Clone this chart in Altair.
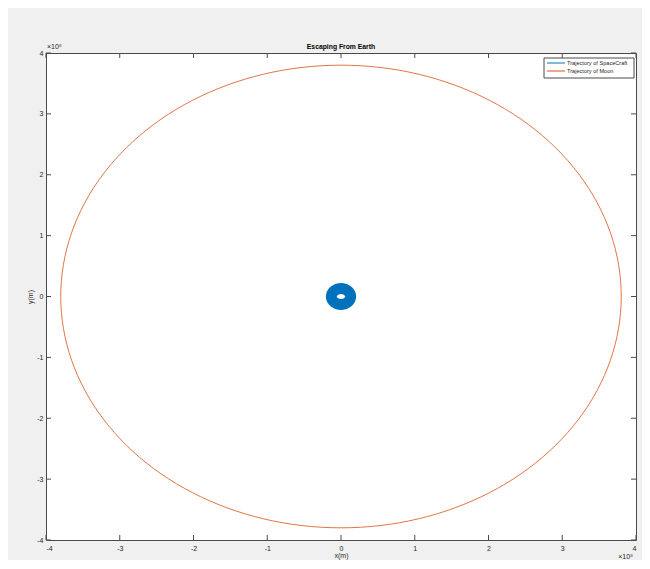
import altair as alt
import numpy as np
import pandas as pd

# ---- data ----
chart_title = "Escaping From Earth"
series_names = ["Trajectory of SpaceCraft", "Trajectory of Moon"]
series_colors = ["#0072BD", "#D95319"]
moon_orbit_radius_m = 3.8e8          # radius of the moon's circular orbit
craft_band_mid_radius_m = 0.13e8     # middle radius of the dense spacecraft spiral band
craft_band_width_px = 11             # drawn thickness of the spacecraft band
tick_values = [-4e8, -3e8, -2e8, -1e8, 0, 1e8, 2e8, 3e8, 4e8]
orbit_angles_deg = list(range(0, 361, 2))

W, H = 590, 487
FONT = "Liberation Sans"
AX = "#262626"
BOX = "#4a4a4a"

rows = []
for name, r in [(series_names[0], craft_band_mid_radius_m), (series_names[1], moon_orbit_radius_m)]:
    for i, a in enumerate(orbit_angles_deg):
        t = np.deg2rad(a)
        rows.append({"series": name, "i": i, "x": r * np.cos(t), "y": r * np.sin(t)})
df = pd.DataFrame(rows)
ticks = pd.DataFrame({"v": tick_values})

xs = alt.Scale(domain=[-4e8, 4e8], nice=False, zero=False)
ys = alt.Scale(domain=[-4e8, 4e8], nice=False, zero=False)
lbl = "''+(datum.value/1e8)"
xaxis = alt.Axis(values=tick_values, labelExpr=lbl, title="x(m)", labelPadding=4, titlePadding=0)
yaxis = alt.Axis(values=tick_values, labelExpr=lbl, title="y(m)", labelPadding=3, titlePadding=3)
color = alt.Color("series:N", scale=alt.Scale(domain=series_names, range=series_colors), legend=None)

craft = alt.Chart(df).transform_filter(alt.datum.series == series_names[0]).mark_line(
    strokeWidth=craft_band_width_px
).encode(
    x=alt.X("x:Q", scale=xs, axis=xaxis),
    y=alt.Y("y:Q", scale=ys, axis=yaxis),
    color=color,
    order="i:Q",
)
moon = alt.Chart(df).transform_filter(alt.datum.series == series_names[1]).mark_line(
    strokeWidth=1, opacity=0.8
).encode(
    x=alt.X("x:Q", scale=xs, axis=xaxis),
    y=alt.Y("y:Q", scale=ys, axis=yaxis),
    color=color,
    order="i:Q",
)

tick_len = 5
tick_top = alt.Chart(ticks).mark_rule(color=BOX, strokeWidth=1).encode(
    x=alt.X("v:Q", scale=xs, axis=xaxis), y=alt.value(0), y2=alt.value(tick_len))
tick_bot = alt.Chart(ticks).mark_rule(color=BOX, strokeWidth=1).encode(
    x=alt.X("v:Q", scale=xs, axis=xaxis), y=alt.value(H - tick_len), y2=alt.value(H))
tick_left = alt.Chart(ticks).mark_rule(color=BOX, strokeWidth=1).encode(
    y=alt.Y("v:Q", scale=ys, axis=yaxis), x=alt.value(0), x2=alt.value(tick_len))
tick_right = alt.Chart(ticks).mark_rule(color=BOX, strokeWidth=1).encode(
    y=alt.Y("v:Q", scale=ys, axis=yaxis), x=alt.value(W - tick_len), x2=alt.value(W))

exp_df = pd.DataFrame({"t": ["×10⁸"]})
exp_top = alt.Chart(exp_df).mark_text(
    font=FONT, fontSize=7, color=AX, align="left", baseline="bottom"
).encode(text="t:N", x=alt.value(1), y=alt.value(-3))
exp_bot = alt.Chart(exp_df).mark_text(
    font=FONT, fontSize=7, color=AX, align="right", baseline="middle"
).encode(text="t:N", x=alt.value(W - 3), y=alt.value(H + 17))

title_df = pd.DataFrame({"t": [chart_title]})
title_mark = alt.Chart(title_df).mark_text(
    font=FONT, fontSize=6.8, fontWeight="bold", color="#000000", align="center", baseline="middle"
).encode(text="t:N", x=alt.value(W / 2), y=alt.value(-6))

# ---- legend box (drawn as marks) ----
LX, LY, LW, LH = 498, 5, 90, 20
leg_df = pd.DataFrame({"series": series_names})
legend_box = alt.Chart(leg_df.head(1)).mark_rect(
    fill="white", stroke=BOX, strokeWidth=1
).encode(x=alt.value(LX), x2=alt.value(LX + LW), y=alt.value(LY), y2=alt.value(LY + LH))
legend_parts = [legend_box]
for k, name in enumerate(series_names):
    row_y = LY + 5 + 8 * k
    one = leg_df[leg_df.series == name]
    legend_parts.append(
        alt.Chart(one).mark_rule(strokeWidth=1, color=series_colors[k]).encode(
            x=alt.value(LX + 3), x2=alt.value(LX + 21), y=alt.value(row_y)))
    legend_parts.append(
        alt.Chart(one).mark_text(font=FONT, fontSize=5.6, color=AX, align="left", baseline="middle").encode(
            text="series:N", x=alt.value(LX + 23), y=alt.value(row_y)))

chart = alt.layer(
    craft, moon, tick_top, tick_bot, tick_left, tick_right, exp_top, exp_bot, title_mark, *legend_parts
).properties(
    width=W, height=H,
    autosize=alt.AutoSizeParams(type="none"),
    padding={"left": 38, "top": 45, "right": 6, "bottom": 20},
    background="#f0f0f0",
).configure_view(
    fill="white", stroke=BOX, strokeWidth=1
).configure_axis(
    domain=False, ticks=False, tickSize=0, grid=False,
    labelFont=FONT, labelFontSize=7, labelColor=AX,
    titleFont=FONT, titleFontSize=7, titleFontWeight="normal", titleColor=AX,
)

chart.save("out.html", embed_options={"renderer": "svg", "actions": False})
